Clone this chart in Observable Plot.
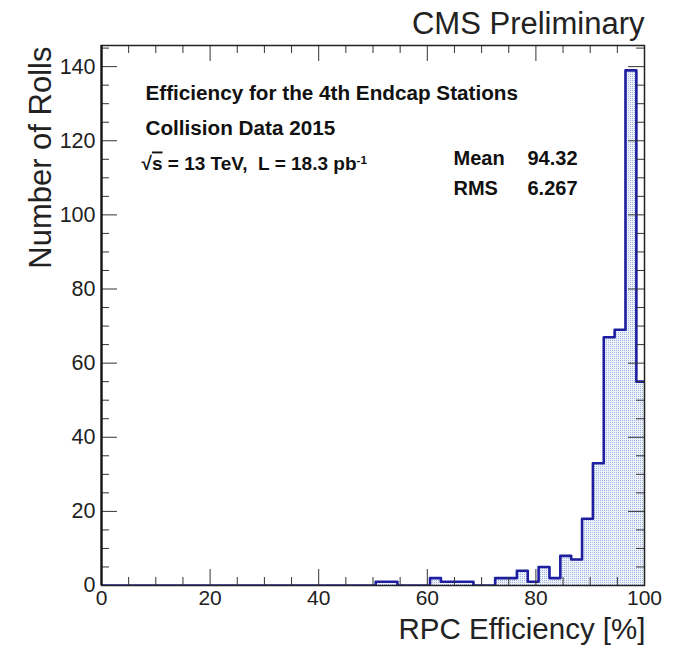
<!DOCTYPE html>
<html>
<head>
<meta charset="utf-8">
<script src="https://cdn.jsdelivr.net/npm/d3@7"></script>
<script src="https://cdn.jsdelivr.net/npm/@observablehq/plot@0.6"></script>
<style>
  body { margin: 0; background: #fff; }
  svg { display: block; }
</style>
</head>
<body>
<div id="chart"></div>
<script>
// ---- data ----
const binWidth = 2;
const histStart = -1.5;           // first bin lower edge
const histEnd = 100.5;            // last bin upper edge
const binLowEdges = [50.5, 52.5, 60.5, 62.5, 64.5, 66.5, 72.5, 74.5, 76.5, 78.5,
                     80.5, 82.5, 84.5, 86.5, 88.5, 90.5, 92.5, 94.5, 96.5, 98.5];
const binCounts   = [1, 1, 2, 1, 1, 1, 2, 2, 4, 1,
                     5, 2, 8, 7, 18, 33, 67, 69, 139, 55];
const xMajorTicks = [0, 20, 40, 60, 80, 100];
const xMinorTicks = [5, 10, 15, 25, 30, 35, 45, 50, 55, 65, 70, 75, 85, 90, 95];
const yMajorTicks = [0, 20, 40, 60, 80, 100, 120, 140];
const yMinorTicks = [5, 10, 15, 25, 30, 35, 45, 50, 55, 65, 70, 75, 85, 90, 95, 105, 110, 115, 125, 130, 135, 145];
const titleText = "CMS Preliminary";
const xTitle = "RPC Efficiency [%]";
const yTitle = "Number of Rolls";
const infoLine1 = "Efficiency for the 4th Endcap Stations";
const infoLine2 = "Collision Data 2015";
const lumiText = "s = 13 TeV,\u00A0 L = 18.3 pb";
const statNames = ["Mean", "RMS"];
const statValues = ["94.32", "6.267"];

// ---- build the histogram table ----
const countByEdge = new Map(binLowEdges.map((e, i) => [e, binCounts[i]]));
const bins = [];
for (let e = histStart; e < histEnd - 1e-9; e += binWidth) {
  const lo = Math.round(e * 10) / 10;
  bins.push({x0: lo, x1: lo + binWidth, count: countByEdge.get(lo) || 0});
}
const outline = bins.map(b => ({x: b.x0, y: b.count}));
outline.push({x: histEnd, y: bins[bins.length - 1].count});

const W = 677, H = 645;
const mL = 101, mR = 33, mT = 45, mB = 60;
const innerW = W - mL - mR, innerH = H - mT - mB;
const ink = "#333";
const font = "'Liberation Sans', Arial, Helvetica, sans-serif";
const boldText = {frameAnchor: "top-left", textAnchor: "start", lineAnchor: "bottom", fontWeight: "bold", fill: "#111"};

const chart = Plot.plot({
  width: W, height: H,
  marginLeft: mL, marginRight: mR, marginTop: mT, marginBottom: mB,
  style: {fontFamily: font, background: "#fff", color: "#000", overflow: "visible"},
  x: {domain: [0, 100]},
  y: {domain: [0, 145.7]},
  marks: [
    Plot.rectY(bins, {x1: "x0", x2: "x1", y: "count", fill: "url(#dots)", clip: true}),
    Plot.line(outline, {x: "x", y: "y", curve: "step-after", stroke: "#1e1ea0", strokeWidth: 2.6, clip: true}),
    // ticks inside the frame on all four sides
    Plot.tickX(xMajorTicks, {x: d => d, insetTop: innerH - 16, stroke: ink, strokeWidth: 1}),
    Plot.tickX(xMinorTicks, {x: d => d, insetTop: innerH - 8, stroke: ink, strokeWidth: 1}),
    Plot.tickX(xMajorTicks, {x: d => d, insetBottom: innerH - 16, stroke: ink, strokeWidth: 1}),
    Plot.tickX(xMinorTicks, {x: d => d, insetBottom: innerH - 8, stroke: ink, strokeWidth: 1}),
    Plot.tickY(yMajorTicks, {y: d => d, insetRight: innerW - 16, stroke: ink, strokeWidth: 1}),
    Plot.tickY(yMinorTicks, {y: d => d, insetRight: innerW - 8, stroke: ink, strokeWidth: 1}),
    Plot.tickY(yMajorTicks, {y: d => d, insetLeft: innerW - 16, stroke: ink, strokeWidth: 1}),
    Plot.tickY(yMinorTicks, {y: d => d, insetLeft: innerW - 8, stroke: ink, strokeWidth: 1}),
    Plot.frame({stroke: "#222", strokeWidth: 1.5}),
    Plot.ruleX([0], {stroke: "#111", strokeWidth: 2.2}),
    Plot.axisX(xMajorTicks, {tickSize: 0, tickPadding: 5, fontSize: 21, label: null, tickFormat: d => String(d), fill: "#222"}),
    Plot.axisY(yMajorTicks, {tickSize: 0, tickPadding: 6, fontSize: 21.5, label: null, tickFormat: d => String(d), fill: "#222"}),
    // titles
    Plot.text([titleText], {frameAnchor: "top-right", textAnchor: "end", lineAnchor: "bottom", dy: -12, dx: 0, fontSize: 31, fill: "#222"}),
    Plot.text([xTitle], {frameAnchor: "bottom-right", textAnchor: "end", lineAnchor: "bottom", dy: 53.5, dx: 1, fontSize: 29.5, fill: "#222"}),
    Plot.text([yTitle], {frameAnchor: "top-left", textAnchor: "end", lineAnchor: "bottom", rotate: -90, dx: -51, dy: 1, fontSize: 31, fill: "#222"}),
    // info text
    Plot.text([infoLine1], {...boldText, fontSize: 20.7, dx: 44, dy: 54}),
    Plot.text([infoLine2], {...boldText, fontSize: 20.7, dx: 44, dy: 89}),
    Plot.text([lumiText], {...boldText, fontSize: 19, dx: 40, dy: 124, className: "lumi"}),
    Plot.text([statNames[0]], {...boldText, fontSize: 20, dx: 352, dy: 119}),
    Plot.text([statValues[0]], {...boldText, fontSize: 20, dx: 426, dy: 119}),
    Plot.text([statNames[1]], {...boldText, fontSize: 20, dx: 352, dy: 149}),
    Plot.text([statValues[1]], {...boldText, fontSize: 20, dx: 426, dy: 149})
  ]
});

const svg = d3.select(chart);
// dotted fill pattern
const defs = svg.insert("defs", ":first-child");
const pat = defs.append("pattern").attr("id", "dots").attr("patternUnits", "userSpaceOnUse")
  .attr("width", 2).attr("height", 2);
pat.append("rect").attr("width", 2).attr("height", 2).attr("fill", "#eef2fa");
pat.append("rect").attr("width", 1).attr("height", 1).attr("fill", "#9db3e2");

// sqrt(s) with overbar and superscript -1 on the luminosity line
svg.selectAll(".lumi text").each(function () {
  const t = d3.select(this);
  const body = t.text();
  t.text("");
  t.append("tspan").text("\u221A");
  t.append("tspan").style("text-decoration", "overline").text(body.slice(0, 1));
  t.append("tspan").text(body.slice(1));
  t.append("tspan").attr("dy", "-0.45em").attr("font-size", "0.62em").text("-1");
});

document.getElementById("chart").appendChild(chart);
</script>
</body>
</html>
